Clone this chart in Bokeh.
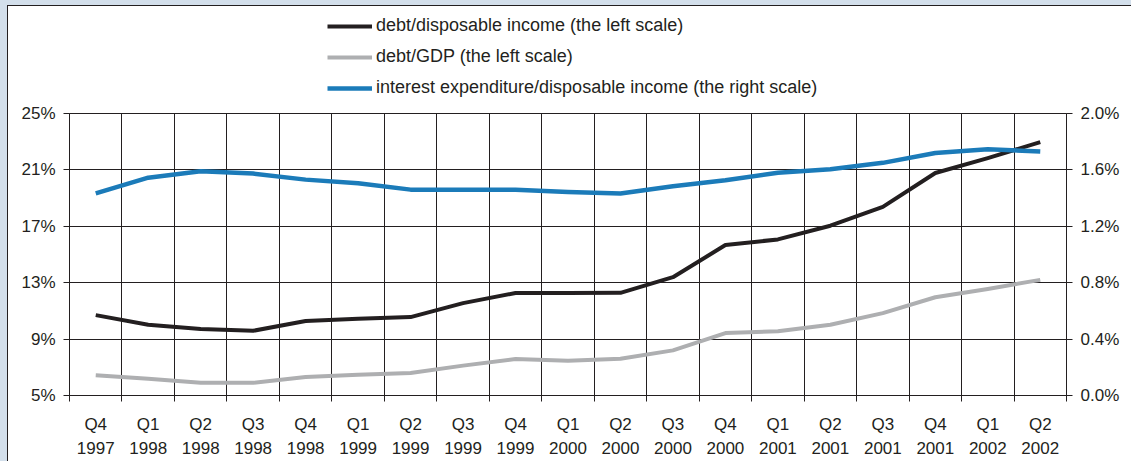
from bokeh.plotting import figure
from bokeh.models import (Range1d, LinearAxis, FixedTicker, PrintfTickFormatter,
                          Legend, LegendItem, ColumnDataSource)
from bokeh.layouts import column
from bokeh.embed import file_html
from bokeh.resources import INLINE

quarters = ["Q4", "Q1", "Q2", "Q3", "Q4", "Q1", "Q2", "Q3", "Q4", "Q1",
            "Q2", "Q3", "Q4", "Q1", "Q2", "Q3", "Q4", "Q1", "Q2"]
years = ["1997", "1998", "1998", "1998", "1998", "1999", "1999", "1999", "1999", "2000",
         "2000", "2000", "2000", "2001", "2001", "2001", "2001", "2002", "2002"]

debt_income = [10.70, 10.02, 9.71, 9.59, 10.28, 10.44, 10.56, 11.55, 12.27, 12.27,
               12.28, 13.39, 15.67, 16.07, 17.04, 18.38, 20.78, 21.84, 22.97]
debt_gdp = [6.44, 6.18, 5.90, 5.90, 6.32, 6.48, 6.60, 7.12, 7.59, 7.47,
            7.61, 8.20, 9.43, 9.55, 10.02, 10.84, 11.97, 12.56, 13.20]
interest_income = [1.433, 1.545, 1.590, 1.574, 1.531, 1.505, 1.460, 1.460, 1.460, 1.444,
                   1.433, 1.484, 1.526, 1.580, 1.604, 1.650, 1.720, 1.746, 1.730]

left_ticks = [5, 9, 13, 17, 21, 25]
right_ticks = [0.0, 0.4, 0.8, 1.2, 1.6, 2.0]

labels = ["debt/disposable income (the left scale)",
          "debt/GDP (the left scale)",
          "interest expenditure/disposable income (the right scale)"]
colors = ["#231f20", "#aeafb1", "#1b7bb9"]
widths = [4, 4, 4.5]

n = len(quarters)
centers = [i + 0.5 for i in range(n)]
bounds = list(range(n + 1))
src = ColumnDataSource(dict(x=centers, a=debt_income, b=debt_gdp, c=interest_income))

FONT = "Liberation Sans"
TXT = "#231f20"
INK = "#231f20"

page_bg = ("linear-gradient(#ffffff,#ffffff) 8px 6px / 1123px 455px no-repeat, "
           "linear-gradient(#231f20,#231f20) 7px 5px / 1124px 456px no-repeat, "
           "#d3dfeb")

# ---- legend strip (top): same series, drawn out of view, only the legend shows ----
TOP_H = 103
lg = figure(width=1131, height=TOP_H, x_range=Range1d(0, n), y_range=Range1d(-2, -1),
            output_backend="svg", toolbar_location=None,
            x_axis_type=None, y_axis_type=None, min_border=0,
            min_border_left=69, min_border_right=65,
            background_fill_alpha=0, border_fill_alpha=0, outline_line_color=None)
lg.grid.visible = False
keys = ["a", "b", "c"]
leg_r = [lg.line("x", k, source=src, line_color=c, line_width=w)
         for k, c, w in zip(keys, colors, widths)]
legend = Legend(items=[LegendItem(label=l, renderers=[r]) for l, r in zip(labels, leg_r)],
                location=(327 - 69, TOP_H - 98), orientation="vertical",
                glyph_width=45, glyph_height=20, label_height=20,
                spacing=10, label_standoff=4, padding=0, margin=0,
                border_line_color=None, background_fill_alpha=0,
                label_text_font=FONT, label_text_font_size="18px",
                label_text_color=TXT)
lg.add_layout(legend, "center")

# ---- main chart ----
p = figure(width=1131, height=461 - TOP_H, x_range=Range1d(0, n), y_range=Range1d(5, 25),
           output_backend="svg", toolbar_location=None,
           min_border_left=69, min_border_right=65, min_border_top=113 - TOP_H,
           min_border_bottom=65,
           background_fill_color="white", border_fill_alpha=0,
           outline_line_color=INK, outline_line_width=1)
p.extra_y_ranges = {"right": Range1d(0, 2.0)}

xa = p.xaxis[0]
xa.ticker = FixedTicker(ticks=centers, minor_ticks=bounds)
xa.major_label_overrides = {c: f"{q}\n{y}" for c, q, y in zip(centers, quarters, years)}
xa.major_tick_line_color = None
xa.minor_tick_line_color = INK
xa.minor_tick_out = 6
xa.minor_tick_in = 0
xa.axis_line_color = INK
xa.major_label_text_font = FONT
xa.major_label_text_font_size = "17px"
xa.major_label_text_color = TXT
xa.major_label_text_line_height = 1.3
xa.major_label_standoff = 13

ya = p.yaxis[0]
ya.ticker = FixedTicker(ticks=left_ticks)
ya.formatter = PrintfTickFormatter(format="%d%%")
ya.major_tick_out = 6
ya.major_tick_in = 0
ya.minor_tick_line_color = None
ya.axis_line_color = INK
ya.major_tick_line_color = INK
ya.major_label_text_font = FONT
ya.major_label_text_font_size = "17px"
ya.major_label_text_color = TXT
ya.major_label_standoff = 8

ra = LinearAxis(y_range_name="right", ticker=FixedTicker(ticks=right_ticks),
                formatter=PrintfTickFormatter(format="%.1f%%"))
ra.major_tick_out = 6
ra.major_tick_in = 0
ra.minor_tick_line_color = None
ra.axis_line_color = INK
ra.major_tick_line_color = INK
ra.major_label_text_font = FONT
ra.major_label_text_font_size = "17px"
ra.major_label_text_color = TXT
ra.major_label_standoff = 8
p.add_layout(ra, "right")

p.xgrid.ticker = FixedTicker(ticks=bounds)
p.ygrid.ticker = FixedTicker(ticks=left_ticks)
for g in (p.xgrid[0], p.ygrid[0]):
    g.grid_line_color = INK
    g.grid_line_width = 1

p.line("x", "a", source=src, line_color=colors[0], line_width=widths[0], line_join="round")
p.line("x", "b", source=src, line_color=colors[1], line_width=widths[1], line_join="round")
p.line("x", "c", source=src, y_range_name="right", line_color=colors[2],
       line_width=widths[2], line_join="round")

page = column(lg, p, width=1131, height=461, spacing=0, styles={"background": page_bg})

open("out.html", "w").write(file_html(page, INLINE))
